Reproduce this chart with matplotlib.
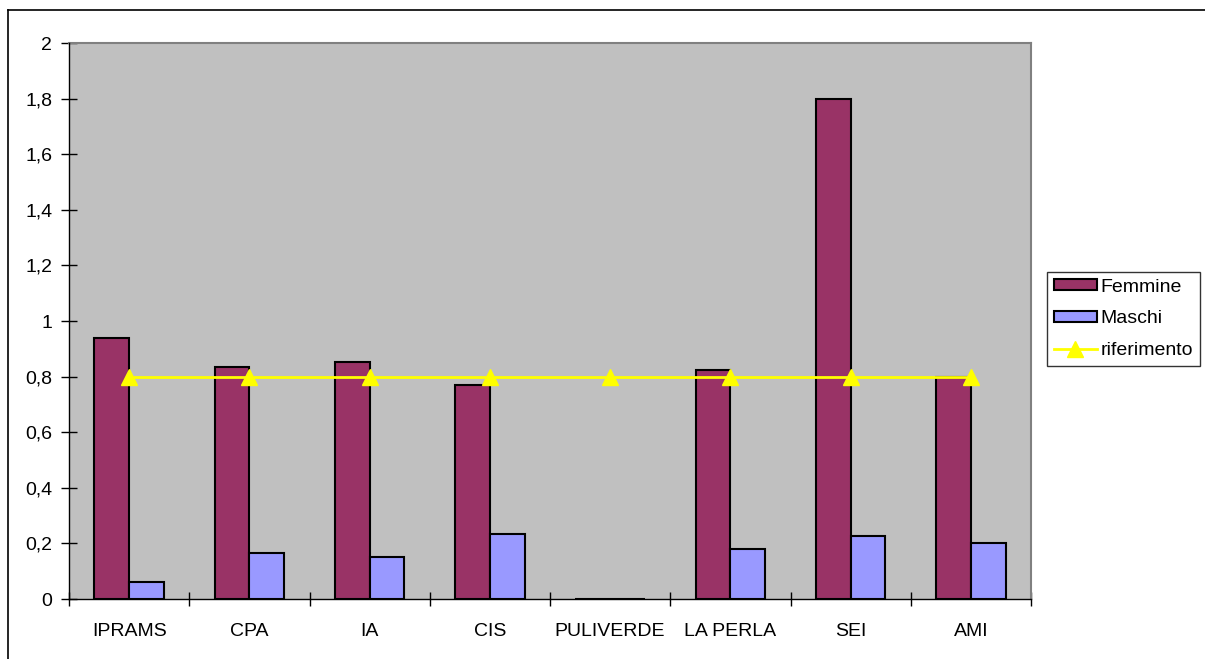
import matplotlib
matplotlib.use("Agg")
import matplotlib.pyplot as plt
from matplotlib.ticker import FuncFormatter
import numpy as np

categories = ["IPRAMS", "CPA", "IA", "CIS", "PULIVERDE", "LA PERLA", "SEI", "AMI"]
femmine = [0.94, 0.836, 0.853, 0.769, 0.0, 0.825, 1.80, 0.798]
maschi = [0.061, 0.167, 0.150, 0.233, 0.0, 0.179, 0.228, 0.200]
riferimento = [0.8, 0.8, 0.8, 0.8, 0.8, 0.8, 0.8, 0.8]
yticks = [0, 0.2, 0.4, 0.6, 0.8, 1.0, 1.2, 1.4, 1.6, 1.8, 2.0]

plt.rcParams["font.family"] = ["Liberation Sans", "DejaVu Sans"]

W, H = 1205, 659
fig = plt.figure(figsize=(W / 100, H / 100), dpi=100)

# outer chart border (only left and top are visible in the original)
fig.add_artist(plt.Line2D([8 / W, 8 / W], [0, 1 - 10 / H], color="black", lw=1.2))
fig.add_artist(plt.Line2D([8 / W, 1], [1 - 10 / H, 1 - 10 / H], color="black", lw=1.2))

left, right, top, bottom = 69, 1031, 43, 599
ax = fig.add_axes([left / W, 1 - bottom / H, (right - left) / W, (bottom - top) / H])
ax.set_facecolor("#C0C0C0")

x = np.arange(len(categories))
bw = 0.29
hf = ax.bar(x - bw / 2, femmine, bw, color="#993366", edgecolor="black", lw=1.5, label="Femmine")
hm = ax.bar(x + bw / 2, maschi, bw, color="#9999FF", edgecolor="black", lw=1.5, label="Maschi")
hr, = ax.plot(x, riferimento, color="#FFFF00", lw=2, marker="^", ms=11,
              markerfacecolor="#FFFF00", markeredgecolor="#FFFF00", label="riferimento")

ax.set_xlim(-0.5, len(categories) - 0.5)
ax.set_ylim(0, 2)
ax.set_yticks(yticks)
ax.yaxis.set_major_formatter(FuncFormatter(lambda v, p: ("%g" % round(v, 1)).replace(".", ",")))
ax.set_xticks(x)
ax.set_xticklabels(categories)
ax.set_xticks(np.arange(len(categories) + 1) - 0.5, minor=True)
ax.tick_params(axis="x", which="major", length=0, pad=17, labelsize=14)
ax.tick_params(axis="x", which="minor", direction="inout", length=10, width=1)
ax.tick_params(axis="y", direction="inout", length=12, width=1, pad=6, labelsize=14)

for s in ["top", "right"]:
    ax.spines[s].set_color("#808080")
    ax.spines[s].set_linewidth(1.5)
for s in ["left", "bottom"]:
    ax.spines[s].set_color("black")
    ax.spines[s].set_linewidth(1)
    ax.spines[s].set_zorder(3)

leg = ax.legend([hf, hm, hr], ["Femmine", "Maschi", "riferimento"],
                loc="upper left", bbox_to_anchor=(1047 / W, 1 - 272 / H),
                bbox_transform=fig.transFigure, fontsize=14, frameon=True,
                fancybox=False, edgecolor="black", handlelength=2.2, handleheight=0.5,
                handletextpad=0.2, borderpad=0.35, labelspacing=0.75, borderaxespad=0)
leg.get_frame().set_linewidth(1)

fig.savefig("out.png", dpi=100)
